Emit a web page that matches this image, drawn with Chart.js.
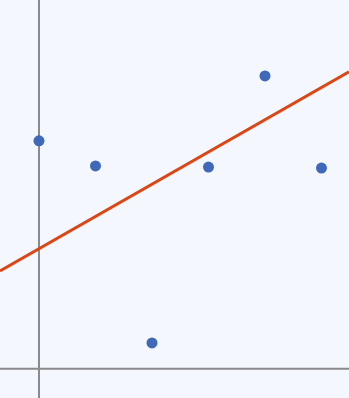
<!DOCTYPE html>
<html lang="en">
<head>
  <meta charset="UTF-8">
  <title>Scatter with trend line</title>
  <style>
    body {
      margin: 0;
      padding: 0;
      background: #f4f7fe;
    }
    .wrap {
      width: 349px;
      height: 398px;
    }
  </style>
</head>
<body>
  <div class="wrap"><canvas id="chart"></canvas></div>

  <script src="https://cdn.jsdelivr.net/npm/chart.js"></script>
  <script>
    // data
    const pointX = [0, 1, 2, 3, 4, 5];
    const pointY = [6.18, 5.50, 0.70, 5.47, 7.94, 5.44];

    // trend line end points
    const trendX = [-0.69, 5.487];
    const trendY = [2.65, 8.05];

    // visible ranges
    const xRange = [-0.69, 5.487];
    const yRange = [-0.795, 10];

    // draws the two zero lines through the scales
    const zeroAxes = {
      id: 'zeroAxes',
      beforeDatasetsDraw(chart) {
        const ctx = chart.ctx;
        const x0 = chart.scales.x.getPixelForValue(0);
        const y0 = chart.scales.y.getPixelForValue(0);
        const a = chart.chartArea;
        ctx.save();
        ctx.strokeStyle = '#8a8a8a';
        ctx.lineWidth = 2;
        ctx.beginPath();
        ctx.moveTo(x0, a.top);
        ctx.lineTo(x0, a.bottom);
        ctx.moveTo(a.left, y0);
        ctx.lineTo(a.right, y0);
        ctx.stroke();
        ctx.restore();
      }
    };

    new Chart(document.getElementById('chart'), {
      type: 'scatter',
      data: {
        datasets: [
          {
            type: 'line',
            data: trendX.map((x, i) => ({ x, y: trendY[i] })),
            borderColor: '#dc4615',
            borderWidth: 3,
            pointRadius: 0,
            fill: false,
            order: 2
          },
          {
            data: pointX.map((x, i) => ({ x, y: pointY[i] })),
            backgroundColor: '#3f68b8',
            borderWidth: 0,
            pointRadius: 5.5,
            order: 1
          }
        ]
      },
      options: {
        responsive: true,
        maintainAspectRatio: false,
        animation: false,
        layout: { padding: 0, autoPadding: false },
        plugins: {
          legend: { display: false },
          tooltip: { enabled: false }
        },
        scales: {
          x: { type: 'linear', min: xRange[0], max: xRange[1], display: false },
          y: { type: 'linear', min: yRange[0], max: yRange[1], display: false }
        }
      },
      plugins: [zeroAxes]
    });
  </script>
</body>
</html>
